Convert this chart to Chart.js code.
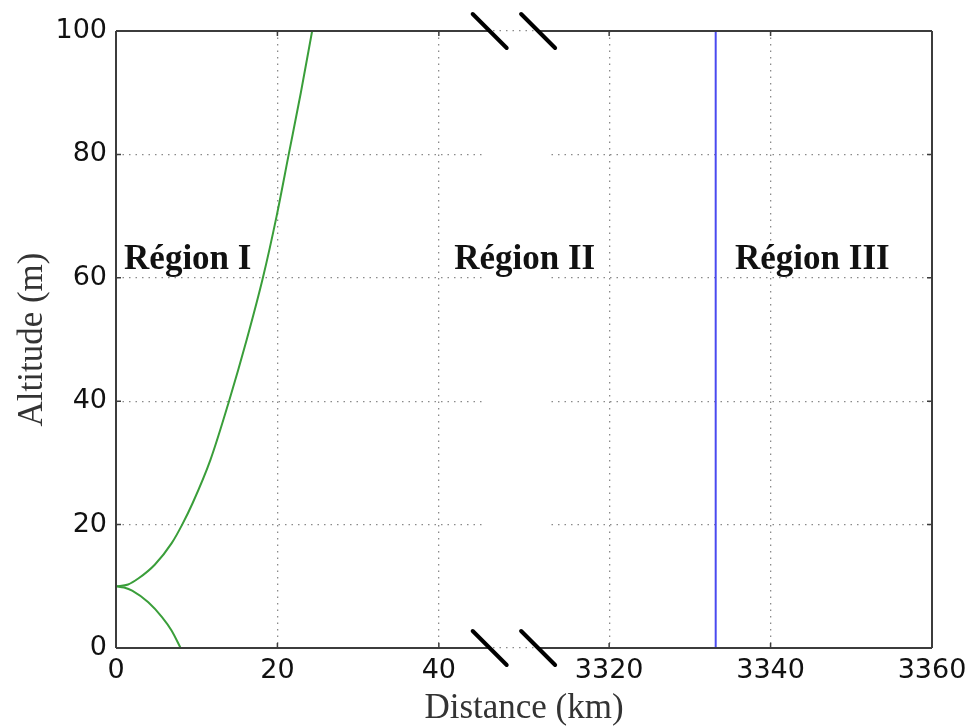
<!DOCTYPE html>
<html>
<head>
<meta charset="utf-8">
<script src="https://cdn.jsdelivr.net/npm/chart.js@4/dist/chart.umd.min.js"></script>
<style>
  body { margin: 0; background: #fff; }
  canvas { display: block; }
</style>
</head>
<body>
<canvas id="myChart" width="970" height="727"></canvas>
<script>
// green curve, upper branch (km, m)
const upperX = [0, 1.5, 2.8, 4.8, 6.9, 8.2, 9.5, 11.7, 14.0, 16.2, 18.2, 19.9, 21.4, 22.9, 24.3];
const upperY = [10, 10.3, 11.3, 13.5, 17.0, 20, 23.5, 30.5, 40, 50, 60, 70, 80, 90, 100];
// green curve, lower branch
const lowerX = [0, 1.0, 2.0, 4.0, 5.7, 6.9, 8.0];
const lowerY = [10, 9.8, 9.3, 7.4, 5.0, 2.8, 0];
// blue vertical line
const blueX = [3333.2, 3333.2];
const blueY = [0, 100];

const xTickLabels = [0, 20, 40, 3320, 3340, 3360];
const yTickLabels = [0, 20, 40, 60, 80, 100];

const regionNames = ["Région I", "Région II", "Région III"];
const regionX = [1.0, 41.9, 3335.6];
const regionY = [61.5, 61.5, 61.5];

/* broken x axis: 0..45 km on the left, 3313..3360 km on the right.
   internal axis value = km on the left, km - 3320 + RIGHT_OFFSET on the right */
const RIGHT_START = 3320;
const RIGHT_OFFSET = 61.1;
const GAP_FROM = 45.5;
const GAP_TO = 53.8;
const BREAK_MARKS = [46.3, 52.3];

function toAxis(km) {
    return km < 1000 ? km : km - RIGHT_START + RIGHT_OFFSET;
}
function fromAxis(v) {
    return v <= 50 ? Math.round(v) : Math.round(v - RIGHT_OFFSET + RIGHT_START);
}
function points(xs, ys) {
    return xs.map((x, i) => ({x: toAxis(x), y: ys[i]}));
}

const GREEN = '#3a9e3a';
const BLUE = '#4a4af0';
const FRAME = '#3c3c3c';

/** hides gridlines inside the axis break */
const gapPlugin = {
    id: 'gap',
    beforeDatasetsDraw(chart) {
        const {ctx, chartArea, scales} = chart;
        const x0 = scales.x.getPixelForValue(GAP_FROM);
        const x1 = scales.x.getPixelForValue(GAP_TO);
        ctx.save();
        ctx.fillStyle = '#fff';
        ctx.fillRect(x0, chartArea.top + 1, x1 - x0, chartArea.bottom - chartArea.top - 2);
        ctx.restore();
    }
};

/** frame with break, inward ticks, break marks and region labels */
const framePlugin = {
    id: 'frame',
    afterDatasetsDraw(chart) {
        const {ctx, chartArea: a, scales} = chart;
        const sx = scales.x, sy = scales.y;
        const b0 = sx.getPixelForValue(BREAK_MARKS[0]);
        const b1 = sx.getPixelForValue(BREAK_MARKS[1]);
        ctx.save();
        ctx.strokeStyle = FRAME;
        ctx.lineWidth = 2;
        ctx.beginPath();
        // top and bottom, split at the break
        for (const y of [a.top, a.bottom]) {
            ctx.moveTo(a.left, y); ctx.lineTo(b0, y);
            ctx.moveTo(b1, y); ctx.lineTo(a.right, y);
        }
        ctx.moveTo(a.left, a.top); ctx.lineTo(a.left, a.bottom);
        ctx.moveTo(a.right, a.top); ctx.lineTo(a.right, a.bottom);
        ctx.stroke();

        // inward ticks
        ctx.lineWidth = 1.5;
        ctx.beginPath();
        xTickLabels.forEach(v => {
            const px = sx.getPixelForValue(toAxis(v));
            ctx.moveTo(px, a.bottom); ctx.lineTo(px, a.bottom - 5);
            ctx.moveTo(px, a.top); ctx.lineTo(px, a.top + 5);
        });
        yTickLabels.forEach(v => {
            const py = sy.getPixelForValue(v);
            ctx.moveTo(a.left, py); ctx.lineTo(a.left + 5, py);
            ctx.moveTo(a.right, py); ctx.lineTo(a.right - 5, py);
        });
        ctx.stroke();

        // break marks
        ctx.strokeStyle = '#000';
        ctx.lineWidth = 4;
        ctx.lineCap = 'round';
        ctx.beginPath();
        for (const y of [a.top, a.bottom]) {
            for (const bx of [b0, b1]) {
                ctx.moveTo(bx - 17, y - 17);
                ctx.lineTo(bx + 17, y + 17);
            }
        }
        ctx.stroke();

        // region labels
        ctx.fillStyle = '#111';
        ctx.font = 'bold 35px "Liberation Serif", "Times New Roman", serif';
        ctx.textAlign = 'left';
        ctx.textBaseline = 'alphabetic';
        regionNames.forEach((name, i) => {
            ctx.fillText(name, sx.getPixelForValue(toAxis(regionX[i])), sy.getPixelForValue(regionY[i]));
        });
        ctx.restore();
    }
};

function line_set(data, color) {
    return {
        data: data,
        borderColor: color,
        borderWidth: 2,
        pointRadius: 0,
        fill: false,
        cubicInterpolationMode: 'monotone'
    };
}

const tickFont = {family: '"DejaVu Sans", sans-serif', size: 27};
const titleFont = {family: '"Liberation Serif", "Times New Roman", serif', size: 35};
const gridStyle = {color: '#8a8a8a', lineWidth: 1.3, drawTicks: false};
const borderStyle = {display: false, dash: [1.5, 5]};

const ctx = document.getElementById('myChart').getContext('2d');
const myChart = new Chart(ctx, {
    type: 'line',
    data: {
        datasets: [
            line_set(points(upperX, upperY), GREEN),
            line_set(points(lowerX, lowerY), GREEN),
            line_set(points(blueX, blueY), BLUE)
        ]
    },
    options: {
        responsive: false,
        animation: false,
        devicePixelRatio: 1,
        layout: {padding: {top: 31, right: 38, left: 0, bottom: 0}},
        plugins: {legend: {display: false}, tooltip: {enabled: false}},
        scales: {
            x: {
                type: 'linear',
                min: 0,
                max: toAxis(3360),
                afterBuildTicks: s => { s.ticks = xTickLabels.map(v => ({value: toAxis(v)})); },
                afterFit: s => { s.height = 79; s.paddingLeft = 0; s.paddingRight = 0; },
                grid: gridStyle,
                border: borderStyle,
                ticks: {font: tickFont, color: '#111', padding: 7, maxRotation: 0,
                        callback: v => String(fromAxis(v))},
                title: {display: true, text: 'Distance (km)', font: Object.assign({lineHeight: 1.05}, titleFont),
                        color: '#333', padding: {top: 0, bottom: 0}}
            },
            y: {
                min: 0,
                max: 100,
                afterBuildTicks: s => { s.ticks = yTickLabels.map(v => ({value: v})); },
                afterFit: s => { s.width = 116; s.paddingTop = 0; s.paddingBottom = 0; },
                grid: gridStyle,
                border: borderStyle,
                ticks: {font: tickFont, color: '#111', padding: 9},
                title: {display: true, text: 'Altitude (m)', font: titleFont, color: '#333',
                        padding: {top: 12, bottom: 0}}
            }
        }
    },
    plugins: [gapPlugin, framePlugin]
});
</script>
</body>
</html>
